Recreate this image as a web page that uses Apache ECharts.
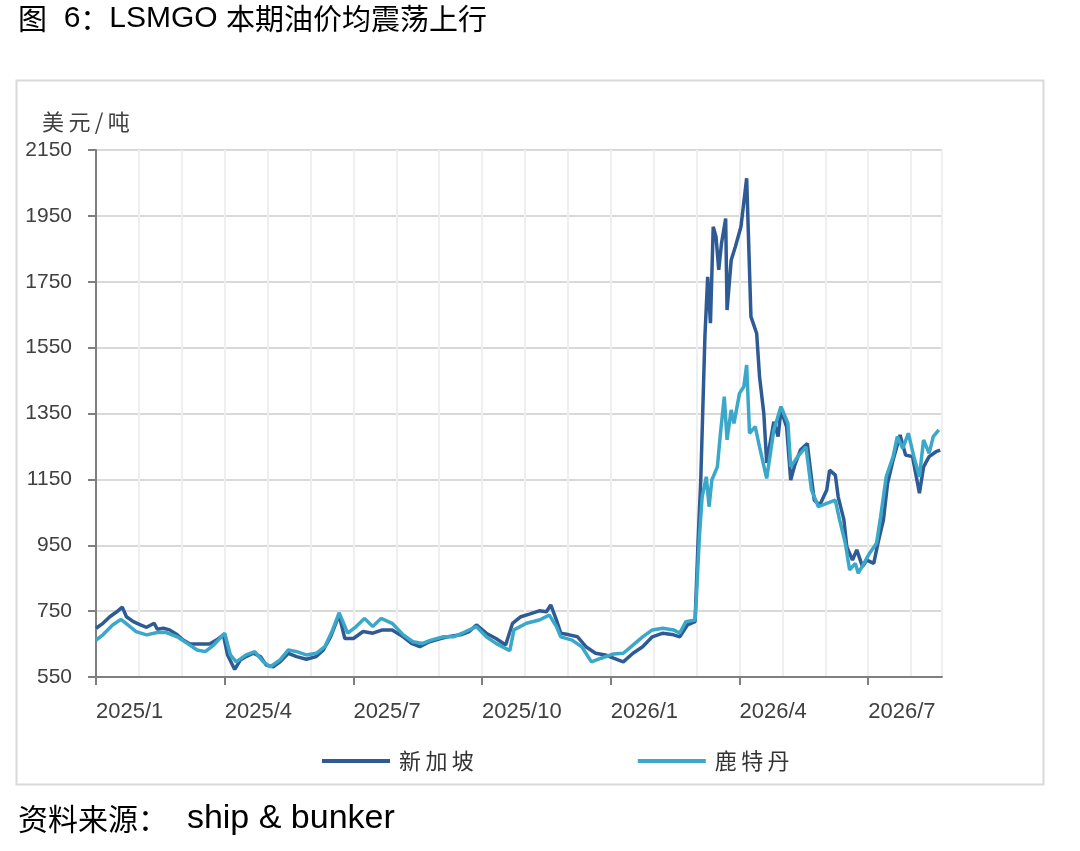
<!DOCTYPE html>
<html>
<head>
<meta charset="utf-8">
<script src="https://cdn.jsdelivr.net/npm/echarts@6/dist/echarts.min.js"></script>
<style>
    html, body { margin: 0; padding: 0; background: #ffffff; }
    #chart { width: 1080px; height: 851px; }
</style>
</head>
<body>
<div id="chart"></div>
<script>
// 新加坡 LSMGO 价格（美元/吨）
var sgpDates = ['2025-01-01', '2025-01-06', '2025-01-11', '2025-01-16', '2025-01-20', '2025-01-23', '2025-01-28',
    '2025-02-02', '2025-02-06', '2025-02-11', '2025-02-13', '2025-02-17', '2025-02-21', '2025-02-26',
    '2025-03-02', '2025-03-07', '2025-03-14', '2025-03-21', '2025-03-26', '2025-03-31',
    '2025-04-03', '2025-04-08', '2025-04-12', '2025-04-16', '2025-04-21', '2025-04-26', '2025-04-30',
    '2025-05-05', '2025-05-10', '2025-05-16', '2025-05-22', '2025-05-29',
    '2025-06-05', '2025-06-10', '2025-06-15', '2025-06-21', '2025-06-25',
    '2025-07-01', '2025-07-08', '2025-07-15', '2025-07-22', '2025-07-29',
    '2025-08-06', '2025-08-12', '2025-08-18', '2025-08-25',
    '2025-09-02', '2025-09-09', '2025-09-16', '2025-09-22', '2025-09-27',
    '2025-10-04', '2025-10-11', '2025-10-18', '2025-10-23', '2025-10-29',
    '2025-11-04', '2025-11-11', '2025-11-16', '2025-11-19', '2025-11-23', '2025-11-26',
    '2025-12-02', '2025-12-08', '2025-12-14', '2025-12-21', '2025-12-28',
    '2026-01-03', '2026-01-10', '2026-01-17', '2026-01-24', '2026-01-31',
    '2026-02-07', '2026-02-14', '2026-02-18', '2026-02-23', '2026-02-28',
    '2026-03-02', '2026-03-04', '2026-03-07', '2026-03-09', '2026-03-11', '2026-03-13', '2026-03-15',
    '2026-03-17', '2026-03-19', '2026-03-22', '2026-03-23', '2026-03-26', '2026-03-29',
    '2026-04-02', '2026-04-06', '2026-04-09', '2026-04-13', '2026-04-15', '2026-04-18', '2026-04-20',
    '2026-04-25', '2026-04-28', '2026-04-30',
    '2026-05-04', '2026-05-07', '2026-05-10', '2026-05-14', '2026-05-19', '2026-05-21', '2026-05-24', '2026-05-28',
    '2026-06-02', '2026-06-04', '2026-06-08', '2026-06-10', '2026-06-14', '2026-06-16', '2026-06-20',
    '2026-06-23', '2026-06-27', '2026-06-30',
    '2026-07-05', '2026-07-08', '2026-07-12', '2026-07-15', '2026-07-19', '2026-07-24', '2026-07-28',
    '2026-08-02', '2026-08-07', '2026-08-10', '2026-08-14', '2026-08-19', '2026-08-22'];
var sgpValues = [698, 713, 733, 748, 762, 733, 718,
    708, 701, 713, 695, 698, 693, 678,
    662, 650, 650, 650, 662, 678,
    617, 573, 602, 612, 622, 612, 586,
    581, 596, 622, 612, 604,
    612, 632, 672, 738, 667,
    667, 688, 683, 693, 693,
    672, 652, 642, 657,
    667, 674, 678, 688, 708,
    683, 667, 647, 713, 733,
    741, 751, 748, 769, 723, 683,
    678, 672, 642, 622, 617,
    607, 596, 622, 642, 672,
    683, 678, 672, 708, 718,
    956, 1148, 1583, 1765, 1624, 1917, 1887,
    1786, 1867, 1942, 1664, 1816, 1856,
    1917, 2064, 1644, 1593, 1462, 1350, 1200,
    1325, 1280, 1361,
    1310, 1148, 1194, 1239, 1259, 1188, 1087, 1072,
    1118, 1178, 1163, 1097, 1027, 946, 905,
    936, 885, 905,
    895, 956, 1027, 1138, 1209, 1285, 1224,
    1219, 1108, 1188, 1219, 1234, 1239];

// 鹿特丹 LSMGO 价格（美元/吨）
var rtmDates = ['2025-01-01', '2025-01-06', '2025-01-13', '2025-01-19', '2025-01-24', '2025-01-30',
    '2025-02-06', '2025-02-13', '2025-02-19', '2025-02-26',
    '2025-03-05', '2025-03-12', '2025-03-18', '2025-03-24',
    '2025-04-01', '2025-04-05', '2025-04-09', '2025-04-16', '2025-04-22', '2025-04-28',
    '2025-05-03', '2025-05-10', '2025-05-16', '2025-05-22', '2025-05-29',
    '2025-06-05', '2025-06-11', '2025-06-16', '2025-06-21', '2025-06-27',
    '2025-07-03', '2025-07-09', '2025-07-15', '2025-07-21', '2025-07-29',
    '2025-08-06', '2025-08-13', '2025-08-20', '2025-08-26',
    '2025-09-04', '2025-09-11', '2025-09-18', '2025-09-27',
    '2025-10-04', '2025-10-11', '2025-10-21', '2025-10-24',
    '2025-11-02', '2025-11-11', '2025-11-18', '2025-11-23', '2025-11-26',
    '2025-12-04', '2025-12-11', '2025-12-18', '2025-12-25',
    '2026-01-03', '2026-01-10', '2026-01-17', '2026-01-24', '2026-01-31',
    '2026-02-07', '2026-02-14', '2026-02-18', '2026-02-22', '2026-02-28',
    '2026-03-01', '2026-03-03', '2026-03-05', '2026-03-08', '2026-03-10', '2026-03-12', '2026-03-16',
    '2026-03-18', '2026-03-21', '2026-03-23', '2026-03-26', '2026-03-28',
    '2026-04-01', '2026-04-04', '2026-04-06', '2026-04-08', '2026-04-12', '2026-04-15', '2026-04-20',
    '2026-04-25', '2026-04-30',
    '2026-05-05', '2026-05-07', '2026-05-12', '2026-05-18', '2026-05-22', '2026-05-27',
    '2026-06-02', '2026-06-08', '2026-06-11', '2026-06-15', '2026-06-18', '2026-06-22', '2026-06-24', '2026-06-28',
    '2026-07-02', '2026-07-07', '2026-07-10', '2026-07-14', '2026-07-19', '2026-07-22', '2026-07-26', '2026-07-30',
    '2026-08-03', '2026-08-07', '2026-08-10', '2026-08-14', '2026-08-17', '2026-08-21'];
var rtmValues = [662, 678, 708, 725, 708, 688,
    678, 685, 685, 672,
    652, 632, 627, 647,
    683, 617, 596, 617, 627, 596,
    581, 602, 632, 627, 617,
    622, 642, 688, 745, 683,
    703, 728, 703, 728, 713,
    678, 657, 652, 662,
    672, 672, 685, 703,
    672, 652, 630, 693,
    713, 723, 738, 703, 672,
    662, 642, 596, 607,
    620, 622, 647, 672, 693,
    698, 693, 683, 718, 723,
    804, 976, 1097, 1158, 1067, 1148, 1188,
    1280, 1401, 1270, 1361, 1320,
    1411, 1431, 1497, 1290, 1310, 1249, 1153,
    1300, 1371,
    1320, 1188, 1219, 1249, 1118, 1067,
    1077, 1087, 1027, 956, 875, 895, 865, 895,
    926, 956, 1037, 1158, 1219, 1280, 1244, 1290,
    1219, 1158, 1270, 1229, 1280, 1300];

var yTicks = [550, 2150, 200];
var quarterLabels = ['2025/1', '2025/4', '2025/7', '2025/10', '2026/1', '2026/4', '2026/7'];
var xEnd = 19.72; // 坐标轴末端（约 2026-08-22）

// 日期 -> 自 2025/1 起的月份数
function toMonth(s) {
    var p = s.split('-');
    var y = +p[0], m = +p[1], d = +p[2];
    var days = new Date(y, m, 0).getDate();
    return (y - 2025) * 12 + (m - 1) + (d - 1) / days;
}

function pairs(dates, values) {
    return dates.map(function (d, i) {
        return [toMonth(d), values[i]];
    });
}

var quarterPos = quarterLabels.map(function (t, i) { return i * 3; });

var myChart = echarts.init(document.getElementById('chart'));

var labelFont = '"Liberation Sans", "Noto Sans CJK SC", sans-serif';
var cjkFont = '"Noto Sans CJK SC", sans-serif';
var latinFont = '"Liberation Sans", sans-serif';
var nb = '\u00a0';
var thin = '\u2009';

var option = {
    backgroundColor: '#ffffff',
    animation: false,
    textStyle: {
        fontFamily: labelFont
    },
    graphic: [
        {
            type: 'text',
            left: 18,
            top: 4,
            style: {
                text: '{c|图}{l|' + nb + nb + '6}{c|：}{l|LSMGO' + nb + '}{c|本期油价均震荡上行}',
                rich: {
                    c: {fontSize: 29, fontFamily: cjkFont, fill: '#000000'},
                    l: {fontSize: 30, fontFamily: latinFont, fill: '#000000'}
                }
            }
        },
        {
            type: 'rect',
            shape: {x: 16.5, y: 80.5, width: 1027, height: 704},
            style: {fill: 'none', stroke: '#d9d9d9', lineWidth: 2},
            z: -1
        },
        {
            type: 'text',
            left: 42,
            top: 111,
            style: {
                text: ['美', '元', '/', '吨'].join(thin),
                fontSize: 22,
                fill: '#404040',
                fontFamily: cjkFont
            }
        },
        {
            type: 'text',
            left: 18,
            top: 802,
            style: {
                text: '{c|资料来源：}{l|' + nb + nb + 'ship & bunker}',
                rich: {
                    c: {fontSize: 30, fontFamily: cjkFont, fill: '#000000'},
                    l: {fontSize: 34, fontFamily: latinFont, fill: '#000000'}
                }
            }
        }
    ],
    legend: {
        left: 317,
        top: 745,
        itemWidth: 68,
        itemHeight: 4,
        itemGap: 164,
        icon: 'rect',
        formatter: function (name) {
            return name.split('').join(thin);
        },
        textStyle: {
            fontSize: 22,
            color: '#333333',
            fontFamily: cjkFont,
            padding: [0, 0, 0, 4]
        },
        data: ['新加坡', '鹿特丹']
    },
    grid: {
        left: 96,
        right: 138,
        top: 150,
        bottom: 174
    },
    xAxis: [
        {
            type: 'value',
            min: 0,
            max: xEnd,
            interval: 1,
            axisLine: {show: false},
            axisTick: {show: false},
            axisLabel: {show: false},
            splitLine: {
                show: true,
                lineStyle: {color: '#efefef', width: 2}
            }
        },
        {
            type: 'value',
            min: 0,
            max: xEnd,
            interval: 3,
            position: 'bottom',
            axisLine: {
                show: true,
                lineStyle: {color: '#7f7f7f', width: 2}
            },
            axisTick: {
                show: true,
                inside: false,
                length: 8,
                customValues: quarterPos,
                lineStyle: {color: '#7f7f7f', width: 2}
            },
            axisLabel: {
                margin: 24,
                fontSize: 22,
                color: '#404040',
                align: 'left',
                customValues: quarterPos,
                formatter: function (v) {
                    var i = Math.round(v / 3);
                    return (Math.abs(v - i * 3) < 1e-6 && quarterLabels[i]) ? quarterLabels[i] : '';
                }
            },
            splitLine: {show: false}
        }
    ],
    yAxis: {
        type: 'value',
        min: yTicks[0],
        max: yTicks[1],
        interval: yTicks[2],
        axisLine: {
            show: true,
            lineStyle: {color: '#7f7f7f', width: 2}
        },
        axisTick: {
            show: true,
            inside: false,
            length: 8,
            lineStyle: {color: '#7f7f7f', width: 2}
        },
        axisLabel: {
            margin: 24,
            fontSize: 21,
            color: '#404040',
            formatter: function (v) { return String(v); }
        },
        splitLine: {
            show: true,
            lineStyle: {color: '#d9d9d9', width: 2}
        }
    },
    series: [
        {
            name: '新加坡',
            type: 'line',
            xAxisIndex: 0,
            data: pairs(sgpDates, sgpValues),
            showSymbol: false,
            symbol: 'none',
            lineStyle: {color: '#2e5b94', width: 3.5},
            itemStyle: {color: '#2e5b94'}
        },
        {
            name: '鹿特丹',
            type: 'line',
            xAxisIndex: 0,
            data: pairs(rtmDates, rtmValues),
            showSymbol: false,
            symbol: 'none',
            lineStyle: {color: '#3ba7c9', width: 3.5},
            itemStyle: {color: '#3ba7c9'}
        }
    ]
};

myChart.setOption(option);
</script>
</body>
</html>
